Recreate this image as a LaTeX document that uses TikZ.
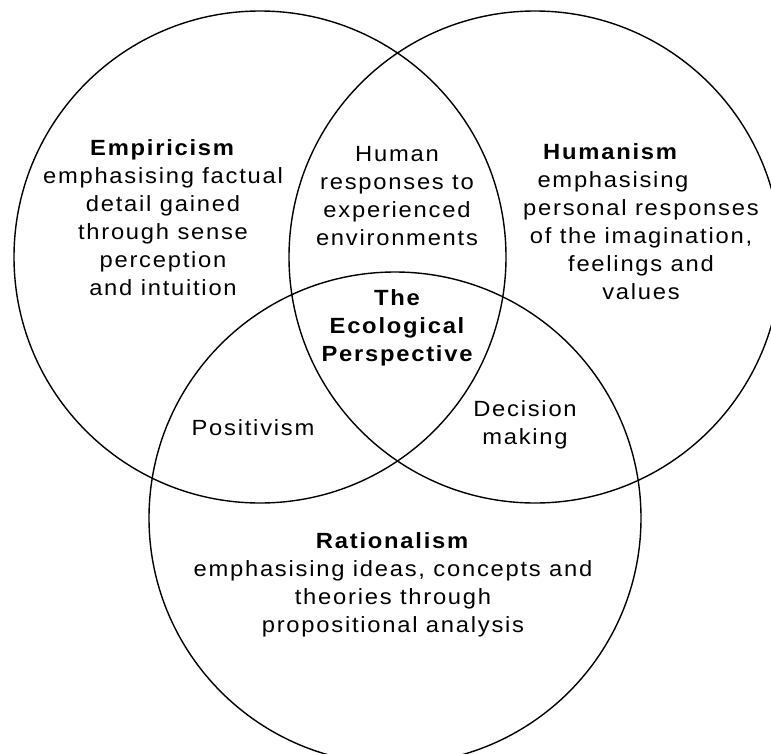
\documentclass[tikz,border=0pt]{standalone}
\usepackage{fontspec}
\setmainfont{Liberation Sans}[FakeStretch=1.08,LetterSpace=8]
\usepackage{tikz}
\tikzstyle{setcircle} = [
    draw,
    circle,
    line width=1.4pt,
    minimum size=492pt,
    inner sep=0pt
    ]
\tikzstyle{settext} = [
    align=center,
    inner sep=0pt,
    font=\fontsize{22}{28}\selectfont
    ]
\newcommand{\shiftleft}[2]{\makebox[0pt]{\hspace*{-#1}#2}}% off-centre line

\begin{document}
\begin{tikzpicture}[x=1pt,y=-1pt]
\clip (0,0) rectangle (771,753);
\node[setcircle] (empiricism) at (260,257) {};
\node[setcircle] (humanism) at (535,257) {};
\node[setcircle] (rationalism) at (395,518) {};

\node[settext] (emptext) at (163,218) {%
    \textbf{Empiricism}\\
    emphasising factual\\
    detail gained\\
    through sense\\
    perception\\
    and intuition};
\node[settext] (humantext) at (397,196) {%
    Human\\
    responses to\\
    experienced\\
    environments};
\node[settext] (humtext) at (641,222) {%
    \shiftleft{60pt}{\textbf{Humanism}}\\
    \shiftleft{56pt}{emphasising}\\
    personal responses\\
    of the imagination,\\
    feelings and\\
    values};
\node[settext, font=\bfseries\fontsize{22}{28}\selectfont] (ecotext) at (397,328) {%
    The\\
    Ecological\\
    Perspective};
\node[settext] (positext) at (253,428) {Positivism};
\node[settext] (decitext) at (525,425) {%
    Decision\\
    making};
\node[settext] (ratext) at (393,585) {%
    \textbf{Rationalism}\\
    emphasising ideas, concepts and\\
    theories through\\
    propositional analysis};
\end{tikzpicture}
\end{document}
